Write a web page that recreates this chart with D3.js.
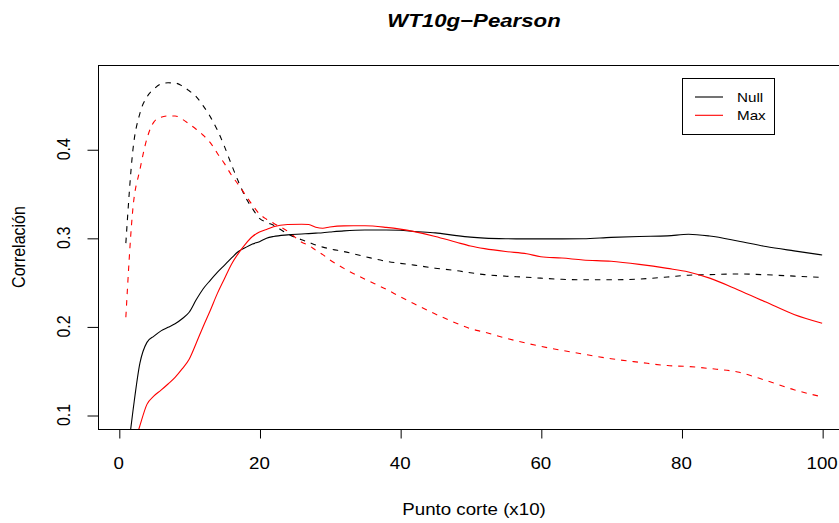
<!DOCTYPE html>
<html>
<head>
<meta charset="utf-8">
<script src="https://cdn.jsdelivr.net/npm/d3@7"></script>
<style>
  html, body { margin: 0; padding: 0; background: white; }
  svg { display: block; font-family: "Liberation Sans", Arial, sans-serif; }
</style>
</head>
<body>
<div id="chart"></div>
<script>
// cut points (x10) where the curves were read
const cutPoints = [1, 2, 3, 4, 5, 6, 7, 8, 9, 10, 11, 12, 13, 14, 15, 16, 17, 18, 19, 20,
  21, 22, 24, 26, 27, 28, 29, 30, 32, 35, 38, 40, 42, 45, 48, 50, 52, 55, 58, 60,
  63, 66, 70, 74, 78, 81, 84, 88, 92, 96, 100];

const nullSolid = [0.040, 0.104, 0.1585, 0.182, 0.189, 0.195, 0.199, 0.203, 0.2087, 0.216,
  0.230, 0.2425, 0.252, 0.261, 0.269, 0.277, 0.2845, 0.289, 0.293, 0.2957,
  0.2995, 0.3015, 0.3033, 0.3043, 0.3048, 0.3053, 0.3058, 0.3065, 0.3078, 0.3088,
  0.3089, 0.3085, 0.3072, 0.3056, 0.3025, 0.3008, 0.2997, 0.2990, 0.2988, 0.2988,
  0.2988, 0.2990, 0.3005, 0.3015, 0.3022, 0.3040, 0.3020, 0.2965, 0.2902, 0.2853, 0.2807];

const maxSolid = [0.020, 0.061, 0.088, 0.112, 0.1215, 0.128, 0.135, 0.1425, 0.152, 0.163,
  0.181, 0.200, 0.218, 0.237, 0.2535, 0.270, 0.2825, 0.293, 0.3015, 0.3065,
  0.3095, 0.3125, 0.3150, 0.3153, 0.3150, 0.3120, 0.3108, 0.3122, 0.3135, 0.3136,
  0.3118, 0.3098, 0.3070, 0.3016, 0.2950, 0.2908, 0.2878, 0.2845, 0.2820, 0.2787,
  0.2772, 0.2750, 0.2735, 0.2700, 0.2655, 0.2615, 0.2545, 0.2415, 0.2275, 0.2135, 0.2036];

const nullDashed = [0.294, 0.399, 0.4406, 0.459, 0.468, 0.4737, 0.475, 0.4747, 0.4715, 0.466,
  0.4594, 0.449, 0.4368, 0.4218, 0.4035, 0.383, 0.3635, 0.346, 0.333, 0.322,
  0.3175, 0.3142, 0.3045, 0.2978, 0.2950, 0.2920, 0.2895, 0.2876, 0.2845, 0.2788,
  0.2735, 0.2712, 0.2692, 0.2657, 0.2630, 0.2605, 0.2585, 0.2567, 0.2555, 0.2545,
  0.2532, 0.2527, 0.2527, 0.2535, 0.2558, 0.2578, 0.2585, 0.2592, 0.2583, 0.2568, 0.2553];

const maxDashed = [0.2104, 0.333, 0.377, 0.412, 0.431, 0.436, 0.4376, 0.4376, 0.434, 0.4285,
  0.4226, 0.4158, 0.4075, 0.3955, 0.384, 0.371, 0.360, 0.3484, 0.337, 0.327,
  0.321, 0.3165, 0.3075, 0.2950, 0.2915, 0.2860, 0.2810, 0.2751, 0.2655, 0.2533,
  0.2420, 0.2336, 0.2255, 0.2140, 0.2036, 0.1975, 0.1935, 0.1868, 0.1810, 0.1775,
  0.1730, 0.1688, 0.1635, 0.1595, 0.1558, 0.1547, 0.1525, 0.1485, 0.1390, 0.1285, 0.1205];

const xTicks = [0, 20, 40, 60, 80, 100];
const yTicks = [0.1, 0.2, 0.3, 0.4];
const legendLabels = ['Null', 'Max'];
const legendColors = ['black', 'red'];

const chart = {
  width: 839,
  height: 523,
  plot: { left: 98, right: 850, top: 65, bottom: 429 },
  stretch: 1.17,
  fontSize: 16,

  init() {
    this.svg = d3.select('#chart').append('svg')
      .attr('width', this.width)
      .attr('height', this.height);

    this.x = d3.scaleLinear().domain([-2.96, 103.96]).range([this.plot.left, this.plot.right]);
    this.y = d3.scaleLinear().domain([0.0842, 0.4951]).range([this.plot.bottom, this.plot.top]);

    this.drawLines();
    this.drawFrame();
    this.drawAxes();
    this.drawTitles();
    this.drawLegend();
  },

  hText(x, y, str, size) {
    return this.svg.append('text')
      .attr('transform', `translate(${x},${y}) scale(${this.stretch},1)`)
      .attr('text-anchor', 'middle')
      .attr('font-size', size)
      .text(str);
  },

  vText(x, y, str, size) {
    return this.svg.append('text')
      .attr('transform', `translate(${x},${y}) rotate(-90) scale(1,${this.stretch})`)
      .attr('text-anchor', 'middle')
      .attr('font-size', size)
      .text(str);
  },

  drawLines() {
    const p = this.plot;
    this.svg.append('clipPath').attr('id', 'plot-clip')
      .append('rect')
      .attr('x', p.left).attr('y', p.top)
      .attr('width', p.right - p.left).attr('height', p.bottom - p.top);

    const g = this.svg.append('g').attr('clip-path', 'url(#plot-clip)');
    const line = d3.line()
      .x((d, i) => this.x(cutPoints[i]))
      .y((d) => this.y(d))
      .curve(d3.curveMonotoneX);

    const series = [
      { values: nullDashed, color: 'black', dash: '5.5,6' },
      { values: maxDashed, color: 'red', dash: '5.5,6' },
      { values: nullSolid, color: 'black', dash: null },
      { values: maxSolid, color: 'red', dash: null }
    ];
    for (const s of series) {
      g.append('path')
        .attr('d', line(s.values))
        .attr('fill', 'none')
        .attr('stroke', s.color)
        .attr('stroke-width', 1.1)
        .attr('stroke-dasharray', s.dash);
    }
  },

  drawFrame() {
    const p = this.plot;
    this.svg.append('rect')
      .attr('x', p.left + 0.5).attr('y', p.top + 0.5)
      .attr('width', p.right - p.left).attr('height', p.bottom - p.top)
      .attr('fill', 'none')
      .attr('stroke', 'black')
      .attr('stroke-width', 1);
  },

  drawAxes() {
    const p = this.plot;
    const xAxis = d3.axisBottom(this.x).tickValues(xTicks).tickSize(9).tickSizeOuter(0);
    const gx = this.svg.append('g')
      .attr('transform', `translate(0.5,${p.bottom + 0.5})`)
      .call(xAxis);
    gx.select('.domain').remove();
    gx.selectAll('text').remove();

    const yAxis = d3.axisLeft(this.y).tickValues(yTicks).tickSize(11).tickSizeOuter(0);
    const gy = this.svg.append('g')
      .attr('transform', `translate(${p.left + 0.5},0.5)`)
      .call(yAxis);
    gy.select('.domain').remove();
    gy.selectAll('text').remove();

    for (const t of xTicks) {
      this.hText(this.x(t), 469, t, this.fontSize);
    }
    for (const t of yTicks) {
      this.vText(70, this.y(t), t.toFixed(1), this.fontSize);
    }
  },

  drawTitles() {
    const cx = (this.plot.left + this.plot.right) / 2;
    this.hText(cx, 27, 'WT10g\u2212Pearson', 19)
      .attr('font-weight', 'bold')
      .attr('font-style', 'italic');
    this.hText(cx, 515, 'Punto corte (x10)', this.fontSize);
    this.vText(25, (this.plot.top + this.plot.bottom) / 2, 'Correlación', this.fontSize);
  },

  drawLegend() {
    const box = { x: 682, y: 78, w: 92, h: 56 };
    this.svg.append('rect')
      .attr('x', box.x + 0.5).attr('y', box.y + 0.5)
      .attr('width', box.w).attr('height', box.h)
      .attr('fill', 'white')
      .attr('stroke', 'black');

    legendLabels.forEach((label, i) => {
      const ly = 97 + i * 18.3;
      this.svg.append('line')
        .attr('x1', 695).attr('x2', 723)
        .attr('y1', ly).attr('y2', ly)
        .attr('stroke', legendColors[i])
        .attr('stroke-width', 1.1);
      this.svg.append('text')
        .attr('transform', `translate(737,${ly + 4.6}) scale(${this.stretch},1)`)
        .attr('font-size', 13)
        .text(label);
    });
  }
};

chart.init();
</script>
</body>
</html>
